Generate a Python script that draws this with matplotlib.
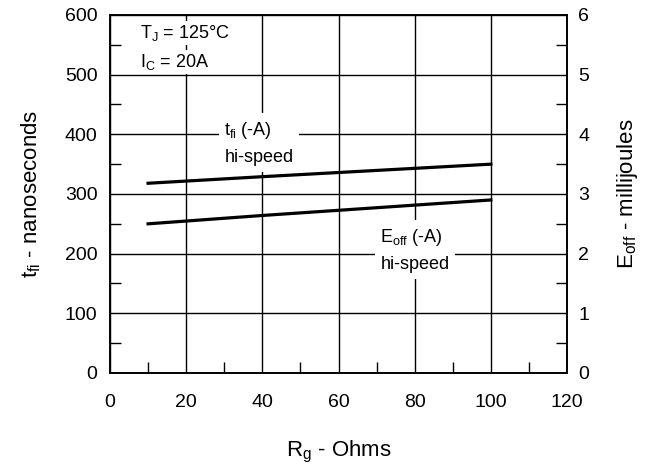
import numpy as np
import matplotlib
matplotlib.use('Agg')
import matplotlib.pyplot as plt
from matplotlib.ticker import MultipleLocator

plt.rcParams['font.family'] = ['Liberation Sans', 'DejaVu Sans']
plt.rcParams['mathtext.default'] = 'regular'

# values
rg_ohms = [10, 40, 100]
tfi_ns = [318, 329, 350]
eoff_mj = [2.50, 2.64, 2.90]

x_ticks = [0, 20, 40, 60, 80, 100, 120]
left_ticks = [0, 100, 200, 300, 400, 500, 600]
right_ticks = [0, 1, 2, 3, 4, 5, 6]

fig = plt.figure(figsize=(6.58, 4.70), dpi=100)
ax = fig.add_axes([0.1672, 0.2064, 0.6945, 0.7617])
ax2 = ax.twinx()

ax.set_xlim(0, 120)
ax.set_ylim(0, 600)
ax2.set_ylim(0, 6)
ax.set_xticks(x_ticks)
ax.set_yticks(left_ticks)
ax2.set_yticks(right_ticks)
ax.xaxis.set_minor_locator(MultipleLocator(10))
ax.yaxis.set_minor_locator(MultipleLocator(50))
ax2.yaxis.set_minor_locator(MultipleLocator(0.5))

ax.grid(True, which='major', color='black', lw=1.0)
ax.set_axisbelow(True)
ax.tick_params(which='both', direction='in', labelsize=14, color='black',
               top=False, right=False)
ax.tick_params(axis='x', which='major', length=0, pad=15)
ax.tick_params(axis='y', which='major', length=0, pad=9)
ax.tick_params(which='minor', length=8, width=1.0)
ax2.tick_params(which='both', direction='in', labelsize=14)
ax2.tick_params(which='major', length=0, pad=8)
ax2.tick_params(which='minor', length=8, width=1.0)
for a in (ax, ax2):
    for s in a.spines.values():
        s.set_linewidth(1.2)

ax.plot(rg_ohms, tfi_ns, color='black', lw=2.3, zorder=3)
ax2.plot(rg_ohms, eoff_mj, color='black', lw=2.3, zorder=3)

box = dict(facecolor='white', edgecolor='none', pad=1.5)
ax.text(8, 570, '$T_J$ = 125°C', fontsize=13, va='center', ha='left', bbox=box, zorder=4)
ax.text(8, 521, '$I_C$ = 20A', fontsize=13, va='center', ha='left', bbox=box, zorder=4)
ax.text(30, 385, '$t_{fi}$ (-A)\nhi-speed', fontsize=13, va='center', ha='left',
        linespacing=1.6, zorder=4,
        bbox=dict(facecolor='white', edgecolor='none', pad=4))
ax.text(71, 206, '$E_{off}$ (-A)\nhi-speed', fontsize=13, va='center', ha='left',
        linespacing=1.6, zorder=4,
        bbox=dict(facecolor='white', edgecolor='none', pad=4))

ax.set_xlabel('$R_g$ - Ohms', fontsize=16, labelpad=20)
ax.set_ylabel('$t_{fi}$ - nanoseconds', fontsize=16, labelpad=16)
ax2.set_ylabel('$E_{off}$ - millijoules', fontsize=16, labelpad=19)

fig.savefig('out.png', dpi=100)
